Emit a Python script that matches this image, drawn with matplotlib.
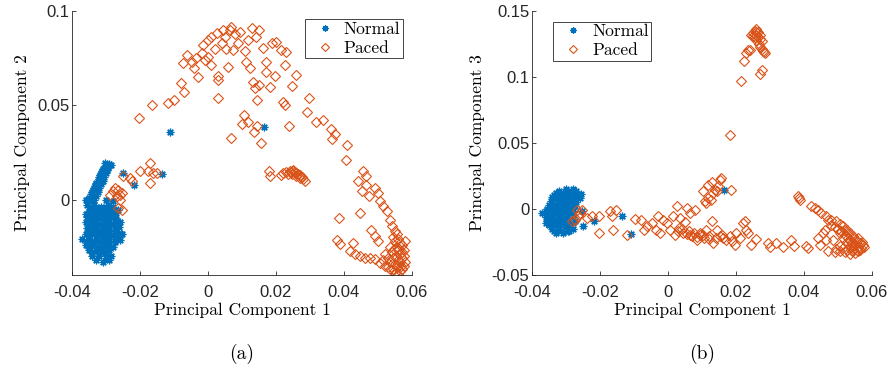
import numpy as np
import matplotlib
matplotlib.use("Agg")
from matplotlib import pyplot as plt

plt.rcParams["font.family"] = "Liberation Sans"
plt.rcParams["axes.unicode_minus"] = False

BLUE = "#0072BD"
ORANGE = "#D95319"

# ---- panel (a): PC1 vs PC2 ----
normal_a = [
    # upper arm
    (-0.0355, 0.000), (-0.0345, 0.002), (-0.034, 0.004), (-0.0335, 0.006), (-0.033, 0.008),
    (-0.0325, 0.010), (-0.032, 0.012), (-0.0315, 0.014), (-0.031, 0.016), (-0.030, 0.018),
    (-0.029, 0.019), (-0.0285, 0.0185), (-0.0295, 0.0165), (-0.030, 0.014), (-0.0305, 0.012),
    (-0.031, 0.010), (-0.0315, 0.008), (-0.032, 0.006), (-0.0325, 0.004), (-0.033, 0.002),
    (-0.0335, 0.000), (-0.0305, 0.017), (-0.0318, 0.013), (-0.0328, 0.009), (-0.0338, 0.005),
    (-0.035, 0.001), (-0.0298, 0.0155), (-0.0302, 0.0195),
    (-0.0345, 0.003), (-0.0332, 0.007), (-0.0322, 0.011), (-0.0312, 0.015), (-0.0292, 0.0185),
    (-0.0308, 0.0135),
    # lower blob
    (-0.036, 0.000), (-0.034, -0.001), (-0.030, 0.000), (-0.028, -0.001),
    (-0.0355, -0.003), (-0.0335, -0.003), (-0.0315, -0.004), (-0.0295, -0.003), (-0.028, -0.004),
    (-0.0345, -0.0045), (-0.0325, -0.0045), (-0.0305, -0.0045), (-0.0285, -0.0045),
    (-0.035, -0.006), (-0.033, -0.006), (-0.031, -0.007), (-0.029, -0.006), (-0.027, -0.007),
    (-0.036, -0.0075), (-0.034, -0.0075), (-0.032, -0.0075), (-0.030, -0.0075), (-0.028, -0.0075),
    (-0.0355, -0.009), (-0.0335, -0.009), (-0.0315, -0.010), (-0.0295, -0.009), (-0.0275, -0.010),
    (-0.035, -0.0105), (-0.033, -0.0105), (-0.031, -0.0105), (-0.029, -0.0105), (-0.027, -0.0105),
    (-0.036, -0.012), (-0.034, -0.012), (-0.032, -0.013), (-0.030, -0.012), (-0.028, -0.013), (-0.026, -0.012),
    (-0.035, -0.0135), (-0.033, -0.0135), (-0.031, -0.0135), (-0.029, -0.0135), (-0.027, -0.0135),
    (-0.0355, -0.015), (-0.0335, -0.015), (-0.0315, -0.016), (-0.0295, -0.015), (-0.0275, -0.016),
    (-0.035, -0.0165), (-0.033, -0.0165), (-0.031, -0.0165), (-0.029, -0.0165), (-0.027, -0.0165),
    (-0.036, -0.018), (-0.034, -0.018), (-0.032, -0.019), (-0.030, -0.018), (-0.028, -0.019), (-0.0255, -0.018),
    (-0.035, -0.0195), (-0.033, -0.0195), (-0.031, -0.0195), (-0.029, -0.0195), (-0.0265, -0.0195),
    (-0.037, -0.021), (-0.035, -0.021), (-0.033, -0.022), (-0.031, -0.021), (-0.029, -0.022), (-0.027, -0.021),
    (-0.0355, -0.0225), (-0.0335, -0.0225), (-0.0315, -0.0225), (-0.0295, -0.0225), (-0.0275, -0.0225),
    (-0.036, -0.024), (-0.034, -0.024), (-0.032, -0.025), (-0.030, -0.024), (-0.028, -0.025),
    (-0.035, -0.0255), (-0.033, -0.0255), (-0.031, -0.0255), (-0.029, -0.0255),
    (-0.035, -0.027), (-0.033, -0.027), (-0.031, -0.028), (-0.029, -0.027),
    (-0.034, -0.0285), (-0.032, -0.0285), (-0.030, -0.0285),
    (-0.034, -0.030), (-0.032, -0.030), (-0.030, -0.031), (-0.0285, -0.030),
    (-0.033, -0.032), (-0.031, -0.033), (-0.029, -0.032),
    (-0.0264, -0.0056), (-0.0253, -0.0185), (-0.0262, -0.0145), (-0.0258, -0.0215),
    # outliers
    (-0.0111, 0.0356), (-0.0134, 0.0136), (-0.0218, 0.0076), (-0.0249, 0.0141), (0.0165, 0.0384),
]

paced_a = [
    # near the normal cluster
    (-0.0288, 0.0026), (-0.0278, 0.0044), (-0.0274, 0.0062), (-0.0264, 0.0053), (-0.0259, 0.0026),
    (-0.0254, 0.0035), (-0.0269, 0.0018), (-0.0259, 0.0000), (-0.0254, -0.0053), (-0.0264, -0.0044),
    (-0.0249, 0.0123), (-0.0229, 0.0115), (-0.0224, 0.0097), (-0.0200, 0.0150), (-0.0176, 0.0150),
    (-0.0171, 0.0194), (-0.0161, 0.0141), (-0.0151, 0.0141), (-0.0171, 0.0088),
    # arch
    (-0.0204, 0.0432), (-0.0165, 0.0501), (-0.0119, 0.0511), (-0.0100, 0.0529), (-0.0080, 0.0619),
    (-0.0070, 0.0573), (-0.0073, 0.0723), (-0.0063, 0.0767), (-0.0048, 0.0732), (-0.0034, 0.0750),
    (-0.0029, 0.0649), (-0.0019, 0.0776), (-0.0014, 0.0820), (-0.0009, 0.0741), (0.0001, 0.0847),
    (0.0001, 0.0758), (0.0010, 0.0864), (0.0010, 0.0714), (0.0025, 0.0882), (0.0030, 0.0653),
    (0.0030, 0.0635), (0.0030, 0.0541), (0.0040, 0.0829), (0.0045, 0.0900), (0.0054, 0.0797),
    (0.0059, 0.0705), (0.0064, 0.0900), (0.0069, 0.0917), (0.0069, 0.0326), (0.0074, 0.0794),
    (0.0089, 0.0829), (0.0094, 0.0891), (0.0106, 0.0450), (0.0113, 0.0732), (0.0118, 0.0847),
    (0.0118, 0.0414), (0.0123, 0.0697), (0.0128, 0.0908), (0.0131, 0.0626), (0.0138, 0.0591),
    (0.0143, 0.0529), (0.0143, 0.0388), (0.0150, 0.0899), (0.0157, 0.0300), (0.0162, 0.0802),
    (0.0172, 0.0732), (0.0172, 0.0679), (0.0182, 0.0596), (0.0187, 0.0829), (0.0196, 0.0653),
    (0.0199, 0.0838), (0.0216, 0.0794), (0.0221, 0.0520), (0.0226, 0.0714), (0.0226, 0.0503),
    (0.0229, 0.0785), (0.0238, 0.0388), (0.0248, 0.0603), (0.0258, 0.0661), (0.0290, 0.0462),
    (0.0297, 0.0538), (0.0317, 0.0414), (0.0337, 0.0420), (0.0361, 0.0374), (0.0373, 0.0349),
    (0.0366, 0.0321), (0.0407, 0.0212), (0.0410, 0.0291),
    (0.0050, 0.0860), (0.0080, 0.0880), (0.0110, 0.0790), (0.0140, 0.0860), (0.0020, 0.0800),
    (-0.0040, 0.0700), (0.0150, 0.0610), (0.0100, 0.0400), (0.0135, 0.0360),
    # small arc
    (0.0215, 0.0130), (0.0220, 0.0140), (0.0230, 0.0145), (0.0240, 0.0150), (0.0245, 0.0148),
    (0.0250, 0.0150), (0.0255, 0.0145), (0.0260, 0.0140), (0.0265, 0.0135), (0.0270, 0.0130),
    (0.0275, 0.0120), (0.0280, 0.0110), (0.0285, 0.0100), (0.0235, 0.0135), (0.0248, 0.0138),
    (0.0260, 0.0125), (0.0270, 0.0115), (0.0250, 0.0155), (0.0180, 0.0150), (0.0182, 0.0123),
    # right branch
    (0.0386, -0.0097), (0.0446, -0.0071), (0.0441, 0.0097), (0.0456, 0.0150), (0.0466, 0.0123),
    (0.0466, 0.0079), (0.0454, 0.0044), (0.0473, 0.0018), (0.0490, 0.0062), (0.0500, 0.0035),
    (0.0505, -0.0009), (0.0515, -0.0035), (0.0525, -0.0062), (0.0535, -0.0106), (0.0542, -0.0141),
    (0.0549, -0.0168), (0.0479, -0.0159), (0.0490, -0.0194), (0.0500, -0.0220), (0.0378, -0.0212),
    (0.0388, -0.0238), (0.0427, -0.0229),
    (0.0417, -0.0273), (0.0432, -0.0291), (0.0446, -0.0300), (0.0461, -0.0309), (0.0476, -0.0309),
    (0.0490, -0.0317), (0.0505, -0.0335), (0.0520, -0.0353), (0.0535, -0.0370), (0.0549, -0.0388),
    (0.0559, -0.0402),
    # dense corner
    (0.0545, -0.020), (0.0550, -0.022), (0.0555, -0.025), (0.0560, -0.027), (0.0565, -0.029),
    (0.0570, -0.031), (0.0565, -0.033), (0.0560, -0.035), (0.0555, -0.036), (0.0550, -0.034),
    (0.0545, -0.031), (0.0540, -0.028), (0.0535, -0.025), (0.0570, -0.024), (0.0575, -0.027),
    (0.0575, -0.030), (0.0580, -0.033), (0.0575, -0.035), (0.0570, -0.037), (0.0565, -0.038),
    (0.0560, -0.021), (0.0565, -0.023), (0.0555, -0.018), (0.0552, -0.030), (0.0558, -0.032),
    (0.0548, -0.026), (0.0562, -0.026), (0.0572, -0.028), (0.0568, -0.035), (0.0578, -0.022),
    (0.0535, -0.033), (0.0528, -0.031), (0.0520, -0.029), (0.0515, -0.032), (0.0530, -0.036),
    (0.0545, -0.037), (0.0550, -0.039), (0.0558, -0.040),
]

# ---- panel (b): PC1 vs PC3 ----
normal_b = [
    (-0.030, 0.015), (-0.028, 0.015), (-0.027, 0.014),
    (-0.032, 0.0135), (-0.030, 0.0135), (-0.028, 0.0135),
    (-0.033, 0.012), (-0.031, 0.012), (-0.029, 0.013), (-0.027, 0.012), (-0.0255, 0.011),
    (-0.0335, 0.0105), (-0.0315, 0.0105), (-0.0295, 0.0105), (-0.0275, 0.0105),
    (-0.034, 0.009), (-0.032, 0.009), (-0.030, 0.010), (-0.028, 0.009), (-0.026, 0.008),
    (-0.0335, 0.0075), (-0.0315, 0.0075), (-0.0295, 0.0075), (-0.0275, 0.0075),
    (-0.0345, 0.006), (-0.0325, 0.006), (-0.0305, 0.007), (-0.0285, 0.006), (-0.027, 0.005),
    (-0.034, 0.0045), (-0.032, 0.0045), (-0.030, 0.0045), (-0.028, 0.0045),
    (-0.035, 0.003), (-0.033, 0.003), (-0.031, 0.004), (-0.029, 0.003), (-0.0275, 0.002),
    (-0.034, 0.0015), (-0.032, 0.0015), (-0.030, 0.0015), (-0.028, 0.0015),
    (-0.0355, 0.000), (-0.0335, 0.000), (-0.0315, 0.001), (-0.0295, 0.000),
    (-0.036, -0.0015), (-0.034, -0.0015), (-0.032, -0.0015), (-0.030, -0.0015), (-0.028, -0.0015),
    (-0.037, -0.003), (-0.035, -0.003), (-0.033, -0.002), (-0.031, -0.003), (-0.029, -0.003),
    (-0.036, -0.0045), (-0.034, -0.0045), (-0.032, -0.0045), (-0.030, -0.0045), (-0.028, -0.0045),
    (-0.036, -0.006), (-0.034, -0.006), (-0.032, -0.005), (-0.030, -0.006), (-0.028, -0.006),
    (-0.035, -0.0075), (-0.033, -0.0075), (-0.031, -0.0075), (-0.029, -0.0075),
    (-0.0355, -0.009), (-0.0335, -0.009), (-0.0315, -0.008), (-0.0295, -0.009), (-0.0275, -0.009),
    (-0.036, -0.0105), (-0.034, -0.0105), (-0.032, -0.0105), (-0.030, -0.0105), (-0.028, -0.0105),
    (-0.035, -0.012), (-0.033, -0.012), (-0.031, -0.011), (-0.029, -0.012),
    (-0.034, -0.0135), (-0.032, -0.0135), (-0.030, -0.0135),
    (-0.034, -0.015), (-0.032, -0.015), (-0.030, -0.014), (-0.028, -0.015),
    (-0.0335, -0.0165), (-0.0315, -0.0165), (-0.0295, -0.0165),
    (-0.033, -0.018), (-0.031, -0.018), (-0.029, -0.017),
    # outliers
    (-0.0249, -0.0126), (-0.0218, -0.0088), (-0.0134, -0.0050), (-0.0110, -0.0189),
    (0.0165, 0.0146), (-0.0252, -0.0018),
]

paced_b = [
    # top cluster
    (0.0250, 0.133), (0.0255, 0.135), (0.0260, 0.136), (0.0265, 0.134), (0.0270, 0.132),
    (0.0265, 0.130), (0.0260, 0.128), (0.0255, 0.130), (0.0250, 0.131), (0.0245, 0.132),
    (0.0270, 0.129), (0.0275, 0.127), (0.0260, 0.132), (0.0258, 0.134),
    (0.0268, 0.125), (0.0270, 0.123), (0.0280, 0.120), (0.0285, 0.118), (0.0277, 0.121),
    (0.0224, 0.1124), (0.0229, 0.1180), (0.0236, 0.1207), (0.0241, 0.1207), (0.0214, 0.0972),
    (0.0275, 0.1050), (0.0270, 0.1025), (0.0283, 0.1187), (0.0182, 0.0558),
    # raised arm
    (0.0103, 0.0134), (0.0108, 0.0058), (0.0113, 0.0045), (0.0118, 0.0184), (0.0128, 0.0202),
    (0.0133, 0.0121), (0.0138, 0.0146), (0.0143, 0.0134), (0.0148, 0.0172), (0.0152, 0.0222),
    (0.0157, 0.0235), (0.0185, 0.0141), (0.0118, 0.0083), (0.0125, 0.0071),
    (0.0381, 0.0096), (0.0388, 0.0066), (0.0386, 0.0083),
    # lower path
    (-0.0283, -0.0093), (-0.0274, -0.0081), (-0.0264, -0.0056), (-0.0259, -0.0030), (-0.0254, -0.0005),
    (-0.0269, -0.0005), (-0.0239, -0.0068), (-0.0225, -0.0056), (-0.0202, -0.0050), (-0.0202, -0.0182),
    (-0.0171, -0.0018), (-0.0166, -0.0056), (-0.0163, -0.0157), (-0.0153, -0.0010), (-0.0122, -0.0194),
    (-0.0097, -0.0073), (-0.0078, -0.0086), (-0.0071, -0.0157), (-0.0063, -0.0131), (-0.0048, -0.0106),
    (-0.0036, -0.0157), (-0.0029, -0.0050), (-0.0024, -0.0182), (-0.0014, -0.0081), (-0.0004, -0.0106),
    (0.0006, -0.0157), (0.0015, -0.0056), (0.0020, -0.0194), (0.0027, 0.0020), (0.0033, -0.0144),
    (0.0035, -0.0068), (0.0045, -0.0182), (0.0050, -0.0101), (0.0056, 0.0008), (0.0062, -0.0169),
    (0.0066, -0.0030), (0.0072, -0.0207), (0.0079, -0.0010), (0.0084, -0.0232), (0.0094, -0.0182),
    (0.0103, -0.0194), (0.0113, -0.0157), (0.0121, -0.0207), (0.0128, -0.0093), (0.0133, -0.0258),
    (0.0143, -0.0157), (0.0152, -0.0207), (0.0162, -0.0220), (0.0172, -0.0232), (0.0182, -0.0207),
    (0.0187, -0.0245), (0.0196, -0.0270), (0.0201, -0.0182), (0.0211, -0.0220), (0.0221, -0.0106),
    (0.0226, -0.0093), (0.0229, -0.0157), (0.0236, -0.0182), (0.0245, -0.0270), (0.0260, -0.0227),
    (0.0294, -0.0258), (0.0299, -0.0288), (0.0319, -0.0258), (0.0338, -0.0288), (0.0363, -0.0232),
    (0.0370, -0.0283), (0.0407, -0.0278), (0.0412, -0.0295),
    (0.0030, -0.017), (0.0040, -0.015), (0.0055, -0.019), (0.0065, -0.020), (0.0075, -0.018),
    (0.0085, -0.021), (0.0095, -0.020), (0.0105, -0.022), (0.0120, -0.023), (0.0140, -0.022),
    (0.0160, -0.020),
    # right cluster
    (0.0422, 0.0025), (0.0432, 0.0008), (0.0441, -0.0005), (0.0451, -0.0030), (0.0466, -0.0056),
    (0.0480, -0.0081), (0.0495, -0.0093), (0.0505, -0.0111), (0.0515, -0.0131), (0.0525, -0.0157),
    (0.0534, -0.0182), (0.0544, -0.0207), (0.0554, -0.0232), (0.0564, -0.0258), (0.0574, -0.0270),
    (0.0569, -0.0295), (0.0559, -0.0320), (0.0549, -0.0333), (0.0534, -0.0338), (0.0520, -0.0328),
    (0.0505, -0.0320), (0.0490, -0.0326), (0.0470, -0.0320), (0.0456, -0.0182), (0.0461, -0.0157),
    (0.0441, -0.0220), (0.0446, -0.0270), (0.0466, -0.0232), (0.0485, -0.0232), (0.0515, -0.0295),
    (0.0470, -0.0081),
    (0.052, -0.020), (0.053, -0.022), (0.054, -0.025), (0.055, -0.027), (0.056, -0.029),
    (0.0555, -0.031), (0.0545, -0.030), (0.0535, -0.028), (0.0525, -0.025), (0.0515, -0.022),
    (0.0505, -0.018), (0.049, -0.014), (0.048, -0.012), (0.050, -0.015), (0.051, -0.017),
    (0.0565, -0.031), (0.0575, -0.029), (0.057, -0.025), (0.0555, -0.024), (0.0545, -0.022),
    (0.053, -0.018), (0.052, -0.016), (0.054, -0.032), (0.0525, -0.031), (0.0545, -0.0275),
    (0.0535, -0.024), (0.056, -0.022), (0.0505, -0.028), (0.0495, -0.030),
]

panels = [
    (normal_a, paced_a, (-0.04, 0.1), [0, 0.05, 0.1], "Principal Component 2", "(a)",
     "upper right", (0.9735, 0.97)),
    (normal_b, paced_b, (-0.05, 0.15), [-0.05, 0, 0.05, 0.1, 0.15], "Principal Component 3", "(b)",
     "upper left", (0.062, 0.96)),
]

fig = plt.figure(figsize=(8.91, 3.70), dpi=100)
lefts = [72 / 891, 532 / 891]

for left, (normal, paced, ylim, yticks, ylabel, tag, loc, anchor) in zip(lefts, panels):
    ax = fig.add_axes([left, 95 / 370, 340 / 891, 264 / 370])
    n = np.array(normal)
    p = np.array(paced)
    ax.plot(n[:, 0], n[:, 1], linestyle="none", marker=(8, 2, 0), markersize=5.5,
            markeredgewidth=0.9, color=BLUE, label="Normal")
    ax.plot(p[:, 0], p[:, 1], linestyle="none", marker="D", markersize=4.8,
            markerfacecolor="none", markeredgewidth=0.8, color=ORANGE, label="Paced")

    ax.set_xlim(-0.04, 0.06)
    ax.set_ylim(*ylim)
    ax.set_xticks([-0.04, -0.02, 0, 0.02, 0.04, 0.06])
    ax.set_xticklabels(["-0.04", "-0.02", "0", "0.02", "0.04", "0.06"])
    ax.set_yticks(yticks)
    ax.set_yticklabels([("%g" % v) for v in yticks])
    ax.tick_params(direction="in", length=3, width=0.6, labelsize=12, colors="#262626",
                   top=False, right=False)
    ax.tick_params(axis="x", pad=7)
    ax.tick_params(axis="y", pad=2)
    for side in ["top", "right"]:
        ax.spines[side].set_visible(False)
    for side in ["left", "bottom"]:
        ax.spines[side].set_linewidth(0.6)
        ax.spines[side].set_color("#262626")

    ax.set_xlabel("Principal Component 1", family="cmr10", fontsize=12.5, labelpad=2)
    ax.set_ylabel(ylabel, family="cmr10", fontsize=12.5, labelpad=5)
    ax.text(0.5, -0.3, tag, transform=ax.transAxes, family="cmr10", fontsize=14,
            ha="center", va="center")

    leg = ax.legend(loc=loc, bbox_to_anchor=anchor, prop={"family": "cmr10", "size": 12.5},
                    fancybox=False, framealpha=1, edgecolor="#262626", borderpad=0.15,
                    labelspacing=0.2, handletextpad=0.1, handlelength=2.0, borderaxespad=0,
                    markerscale=0.8)
    leg.get_frame().set_linewidth(0.6)

fig.savefig("out.png", dpi=100)
